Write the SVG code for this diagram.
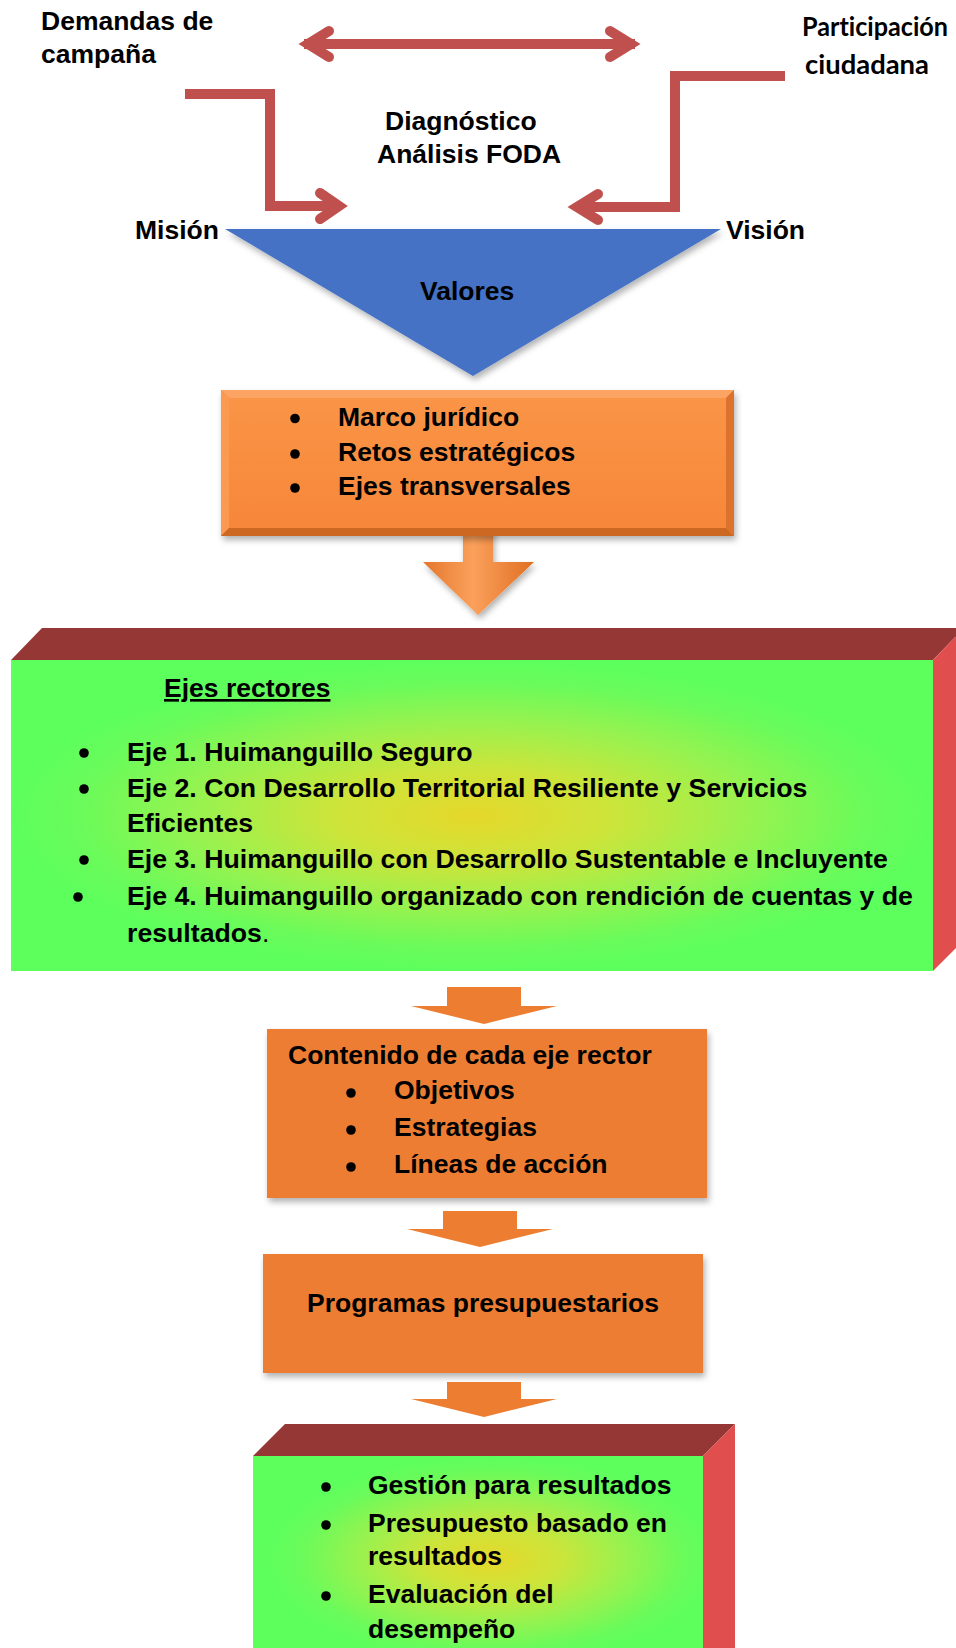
<svg xmlns="http://www.w3.org/2000/svg" width="956" height="1648" viewBox="0 0 956 1648">
<defs>
<style>
.t{font-family:"Liberation Sans",Arial,sans-serif;font-weight:bold;font-size:26.5px;fill:#000}
.c{font-family:Lato,"Liberation Sans",sans-serif;font-weight:bold;font-size:27px;fill:#000;font-variant-ligatures:none}
.red{fill:none;stroke:#C0504D;stroke-width:10;stroke-linejoin:miter}
.head{stroke-linecap:round}
.bul{fill:#000}
.flat{fill:#ED7D31}
.topface{fill:#953735}
.sideface{fill:#E04E4E}
</style>
<radialGradient id="gg" cx="0.5" cy="0.5" r="0.5">
<stop offset="0" stop-color="#E5D82A"/>
<stop offset="0.3" stop-color="#CDE43A"/>
<stop offset="0.6" stop-color="#98F24F"/>
<stop offset="0.85" stop-color="#6AFB5A"/>
<stop offset="1" stop-color="#5DFF5D"/>
</radialGradient>
<radialGradient id="gg2" cx="0.53" cy="0.5" r="0.5">
<stop offset="0" stop-color="#E5D82A"/>
<stop offset="0.3" stop-color="#CDE43A"/>
<stop offset="0.6" stop-color="#98F24F"/>
<stop offset="0.85" stop-color="#6AFB5A"/>
<stop offset="1" stop-color="#5DFF5D"/>
</radialGradient>
<linearGradient id="og" x1="0" y1="0" x2="0" y2="1">
<stop offset="0" stop-color="#FA9446"/>
<stop offset="1" stop-color="#F7873A"/>
</linearGradient>
<linearGradient id="ag" x1="0" y1="0" x2="1" y2="0">
<stop offset="0" stop-color="#E4762C"/>
<stop offset="0.45" stop-color="#FBA15C"/>
<stop offset="1" stop-color="#E06E22"/>
</linearGradient>
<filter id="sh" x="-10%" y="-10%" width="125%" height="135%">
<feDropShadow dx="2" dy="4" stdDeviation="3" flood-color="#000" flood-opacity="0.3"/>
</filter>
</defs>
<rect width="956" height="1648" fill="#fff"/>

<g id="connectors">
<line class="red" x1="304" y1="44" x2="635" y2="44"/>
<polyline class="red head" points="329,31 308,44 329,57"/>
<polyline class="red head" points="610,31 631,44 610,57"/>
<path class="red" d="M185,94 H270 V206 H334"/>
<polyline class="red head" points="320,193 339,206 320,219"/>
<path class="red" d="M785,76 H675 V207 H582"/>
<polyline class="red head" points="598,194 577,207 598,220"/>
<path id="arrow-box1" d="M463,525 H493 V562 H534 L478,615 L423,562 H463 Z" fill="url(#ag)" filter="url(#sh)"/>
<path id="arrow-1" class="flat" d="M447,987 H521 V1006 H557 L484,1024 L411,1006 H447 Z"/>
<path id="arrow-2" class="flat" d="M443,1211 H517 V1229 H553 L480,1247 L407,1229 H443 Z"/>
<path id="arrow-3" class="flat" d="M447,1382 H521 V1399 H557 L484,1417 L411,1399 H447 Z"/>
</g>

<g id="demandas">
<text class="t" x="41" y="29.5">Demandas de</text>
<text class="t" x="41" y="62.5">campaña</text>
</g>

<g id="participacion">
<text class="c" x="802" y="36" textLength="146" lengthAdjust="spacingAndGlyphs">Participación</text>
<text class="c" x="805" y="74" textLength="124" lengthAdjust="spacingAndGlyphs">ciudadana</text>
</g>

<g id="diagnostico">
<text class="t" x="385" y="130">Diagnóstico</text>
<text class="t" x="377" y="163">Análisis FODA</text>
</g>

<g id="valores">
<polygon points="225,229 721,229 473,376" fill="#4472C4" filter="url(#sh)"/>
<text class="t" x="420" y="300">Valores</text>
</g>

<g id="mision"><text class="t" x="135" y="238.5">Misión</text></g>
<g id="vision"><text class="t" x="726" y="238.5">Visión</text></g>

<g id="box1">
<g filter="url(#sh)">
<rect x="221" y="390" width="513" height="146" fill="#F58634"/>
</g>
<polygon points="221,390 734,390 726,398 229,398" fill="#FBA464"/>
<polygon points="221,390 229,398 229,528 221,536" fill="#F99A50"/>
<polygon points="734,390 734,536 726,528 726,398" fill="#DC722C"/>
<polygon points="221,536 734,536 726,528 229,528" fill="#CC6822"/>
<rect x="229" y="398" width="497" height="130" fill="url(#og)"/>
<circle class="bul" cx="295" cy="418.5" r="4.8"/>
<circle class="bul" cx="295" cy="454" r="4.8"/>
<circle class="bul" cx="295" cy="488" r="4.8"/>
<text class="t" x="338" y="425.5">Marco jurídico</text>
<text class="t" x="338" y="461">Retos estratégicos</text>
<text class="t" x="338" y="495">Ejes transversales</text>
</g>

<g id="ejes-rectores">
<polygon class="topface" points="42,628 964,628 933,660 11,660"/>
<polygon class="sideface" points="933,660 964,628 964,940 933,971"/>
<rect x="11" y="660" width="922" height="311" fill="url(#gg)"/>
<text class="t" x="164" y="697" text-decoration="underline">Ejes rectores</text>
<circle class="bul" cx="84" cy="753" r="4.8"/>
<circle class="bul" cx="84" cy="789" r="4.8"/>
<circle class="bul" cx="84" cy="860" r="4.8"/>
<circle class="bul" cx="78" cy="897" r="4.8"/>
<text class="t" x="127" y="761" style="font-size:26.7px">Eje 1. Huimanguillo Seguro</text>
<text class="t" x="127" y="797" style="font-size:26.7px">Eje 2. Con Desarrollo Territorial Resiliente y Servicios</text>
<text class="t" x="127" y="832" style="font-size:26.7px">Eficientes</text>
<text class="t" x="127" y="868" style="font-size:26.7px">Eje 3. Huimanguillo con Desarrollo Sustentable e Incluyente</text>
<text class="t" x="127" y="905" style="font-size:26.7px">Eje 4. Huimanguillo organizado con rendición de cuentas y de</text>
<text class="t" x="127" y="942" style="font-size:26.7px">resultados<tspan font-weight="normal">.</tspan></text>
</g>

<g id="contenido">
<rect x="267" y="1029" width="440" height="169" fill="#ED7D31" filter="url(#sh)"/>
<text class="t" x="288" y="1064">Contenido de cada eje rector</text>
<circle class="bul" cx="351" cy="1093" r="4.8"/>
<circle class="bul" cx="351" cy="1130" r="4.8"/>
<circle class="bul" cx="351" cy="1167" r="4.8"/>
<text class="t" x="394" y="1099">Objetivos</text>
<text class="t" x="394" y="1136">Estrategias</text>
<text class="t" x="394" y="1173">Líneas de acción</text>
</g>

<g id="programas">
<rect x="263" y="1254" width="440" height="119" fill="#ED7D31" filter="url(#sh)"/>
<text class="t" x="307" y="1312">Programas presupuestarios</text>
</g>

<g id="gestion">
<polygon class="topface" points="285,1424 735,1424 703,1456 253,1456"/>
<polygon class="sideface" points="703,1456 735,1424 735,1664 703,1664"/>
<rect x="253" y="1456" width="450" height="208" fill="url(#gg2)"/>
<circle class="bul" cx="326" cy="1487" r="4.8"/>
<circle class="bul" cx="326" cy="1525" r="4.8"/>
<circle class="bul" cx="326" cy="1596" r="4.8"/>
<text class="t" x="368" y="1494">Gestión para resultados</text>
<text class="t" x="368" y="1532">Presupuesto basado en</text>
<text class="t" x="368" y="1565">resultados</text>
<text class="t" x="368" y="1603">Evaluación del</text>
<text class="t" x="368" y="1638">desempeño</text>
</g>
</svg>
